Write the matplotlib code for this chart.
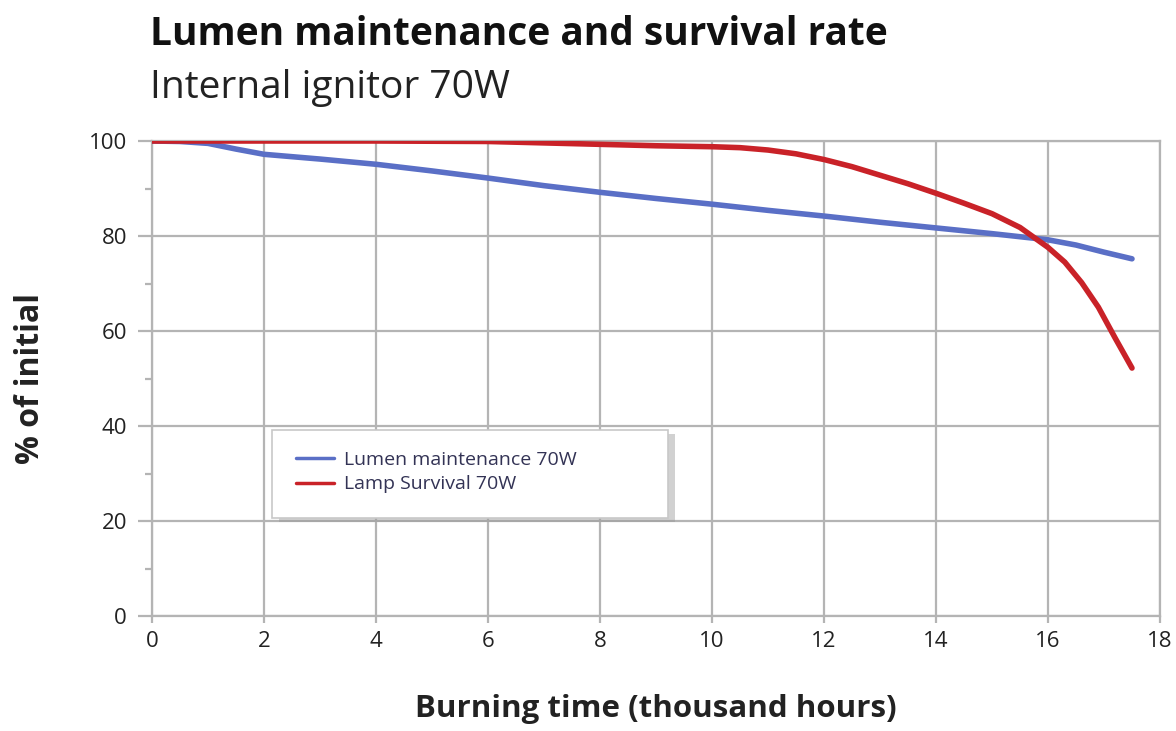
import matplotlib.pyplot as plt
from matplotlib.patches import Rectangle

# data
lumen_hours = [0, 0.5, 1, 1.5, 2, 3, 4, 5, 6, 7, 8, 9, 10, 11, 12, 13, 14, 15, 16, 16.5, 17, 17.5]
lumen_pct = [100, 99.9, 99.5, 98.3, 97.2, 96.2, 95.1, 93.7, 92.2, 90.6, 89.2, 87.9, 86.7, 85.4, 84.2, 82.9, 81.7, 80.5, 79.2, 78.1, 76.6, 75.2]

surv_hours = [0, 2, 4, 6, 7, 8, 9, 10, 10.5, 11, 11.5, 12, 12.5, 13, 13.5, 14, 14.5, 15, 15.5, 16, 16.3, 16.6, 16.9, 17.2, 17.5]
surv_pct = [100, 100, 100, 99.9, 99.6, 99.3, 99.0, 98.8, 98.6, 98.1, 97.3, 96.1, 94.6, 92.8, 91.0, 89.0, 86.9, 84.7, 81.8, 77.6, 74.5, 70.2, 65.0, 58.5, 52.2]

series_labels = ['Lumen maintenance 70W', 'Lamp Survival 70W']

plt.rcParams['font.family'] = ['Open Sans', 'DejaVu Sans']

fig = plt.figure(figsize=(11.76, 7.31), dpi=100)
ax = fig.add_axes([0.1293, 0.1573, 0.8571, 0.6498])

ax.plot(lumen_hours, lumen_pct, color='#5a6fc6', lw=4, solid_capstyle='round', label=series_labels[0], zorder=3)
ax.plot(surv_hours, surv_pct, color='#c92228', lw=4, solid_capstyle='round', label=series_labels[1], zorder=3)

ax.set_xlim(0, 18)
ax.set_ylim(0, 100)
ax.set_xticks(range(0, 19, 2))
ax.set_yticks(range(0, 101, 20))
ax.set_yticks(range(10, 100, 20), minor=True)
ax.grid(True, which='major', color='#b4b4b4', lw=1.6)
for s in ax.spines.values():
    s.set_color('#b4b4b4')
    s.set_linewidth(1.6)
ax.tick_params(axis='both', which='both', colors='#b4b4b4', labelcolor='#222222', labelsize=16, width=1.6)
ax.tick_params(axis='y', which='major', length=10, pad=8)
ax.tick_params(axis='y', which='minor', length=5)
ax.tick_params(axis='x', which='major', length=5, pad=6)

ax.set_xlabel('Burning time (thousand hours)', fontsize=22.5, fontweight='bold', color='#222222', labelpad=30)
ax.set_ylabel('% of initial', fontsize=23, fontweight='bold', color='#222222', labelpad=30)

# legend box with shadow
ax.add_patch(Rectangle((0.126, 0.198), 0.393, 0.186, transform=ax.transAxes, facecolor='#999999', edgecolor='none', alpha=0.45, zorder=4))
ax.add_patch(Rectangle((0.119, 0.206), 0.393, 0.186, transform=ax.transAxes, facecolor='white', edgecolor='#c8c8c8', lw=1.2, zorder=5))
leg = ax.legend(loc='upper left', bbox_to_anchor=(0.125, 0.385), frameon=False, fontsize=14,
                handlelength=2.0, handletextpad=0.5, labelspacing=0.35, borderaxespad=0.5)
leg.set_zorder(6)
for line in leg.get_lines():
    line.set_linewidth(2.5)
for t in leg.get_texts():
    t.set_color('#333355')

fig.text(0.1275, 0.938, 'Lumen maintenance and survival rate', fontsize=28, fontweight='bold', color='#111111')
fig.text(0.1275, 0.866, 'Internal ignitor 70W', fontsize=28, color='#222222')

fig.savefig('out.png', dpi=100)
